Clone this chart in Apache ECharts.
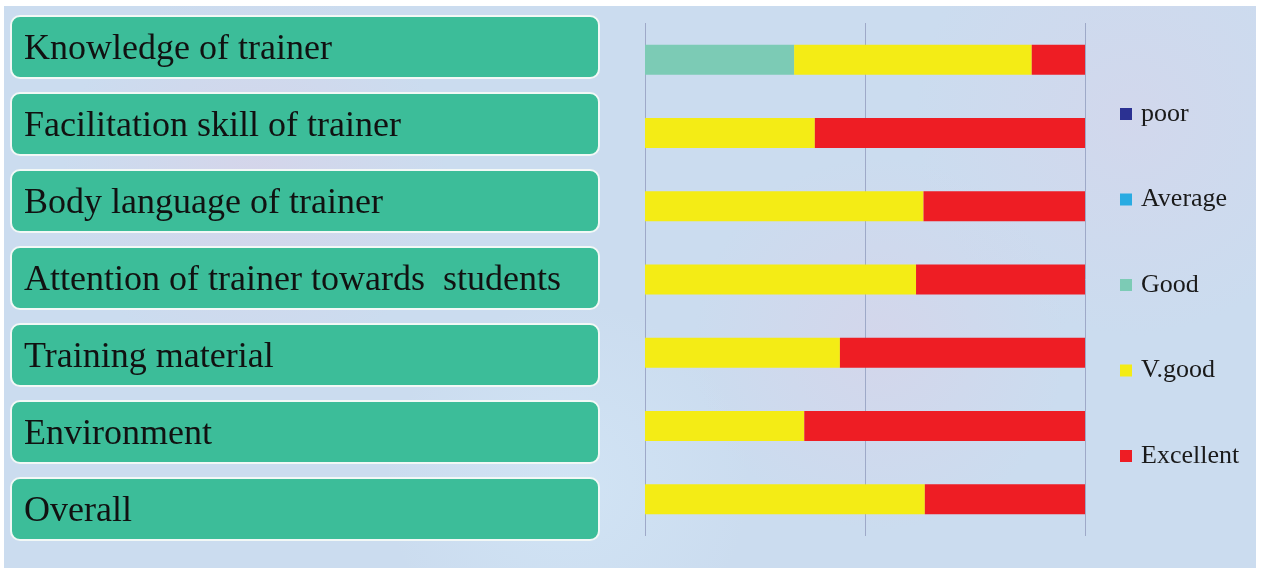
<!DOCTYPE html>
<html>
<head>
<meta charset="utf-8">
<script src="https://cdn.jsdelivr.net/npm/echarts@6/dist/echarts.min.js"></script>
<style>
  html, body { margin: 0; padding: 0; background: #ffffff; }
  #bg { position: absolute; left: 4px; top: 6px; width: 1252px; height: 562px;
        background-color: #cbdcef;
        background-image:
          radial-gradient(circle at 20% 30%, rgba(230,200,225,0.35) 0, rgba(230,200,225,0) 18%),
          radial-gradient(circle at 70% 60%, rgba(230,200,225,0.3) 0, rgba(230,200,225,0) 20%),
          radial-gradient(circle at 45% 85%, rgba(215,235,250,0.5) 0, rgba(215,235,250,0) 22%),
          radial-gradient(circle at 90% 20%, rgba(225,205,230,0.3) 0, rgba(225,205,230,0) 18%);
  }
  #chart { position: absolute; left: 0; top: 0; width: 1262px; height: 573px; }
</style>
</head>
<body>
<div id="bg"></div>
<div id="chart"></div>
<script>
// ---- data ----
const categories = [
  "Knowledge of trainer",
  "Facilitation skill of trainer",
  "Body language of trainer",
  "Attention of trainer towards  students",
  "Training material",
  "Environment",
  "Overall"
];
const seriesNames = ["poor", "Average", "Good", "V.good", "Excellent"];
const poor      = [0, 0, 0, 0, 0, 0, 0];
const average   = [0, 0, 0, 0, 0, 0, 0];
const good      = [33.9, 0, 0, 0, 0, 0, 0];
const vgood     = [54.0, 38.6, 63.3, 61.6, 44.3, 36.2, 63.6];
const excellent = [12.1, 61.4, 36.7, 38.4, 55.7, 63.8, 36.4];
const xTicks = [0, 50, 100];

const colors = {
  "poor": "#2b3192",
  "Average": "#29abe2",
  "Good": "#7ccbb5",
  "V.good": "#f4ec15",
  "Excellent": "#ee1d24"
};
const values = [poor, average, good, vgood, excellent];
const boxFill = categories.map(() => 1);

const chart = echarts.init(document.getElementById('chart'), null, { renderer: 'canvas' });

const stackSeries = seriesNames.map((name, i) => ({
  name: name,
  type: 'bar',
  stack: 'total',
  xAxisIndex: 0,
  yAxisIndex: 0,
  barWidth: 30,
  itemStyle: { color: colors[name] },
  emphasis: { disabled: true },
  data: values[i]
}));

chart.setOption({
  backgroundColor: 'transparent',
  animation: false,
  grid: [
    { left: 645, right: 177, top: 23, bottom: 37 },
    { left: 10, width: 590, top: 8.5, height: 539 }
  ],
  xAxis: [
    {
      gridIndex: 0, type: 'value', min: xTicks[0], max: xTicks[xTicks.length - 1], interval: 50,
      axisLabel: { show: false }, axisLine: { show: false }, axisTick: { show: false },
      splitLine: { show: true, lineStyle: { color: '#9ea9c8', width: 1 } }
    },
    {
      gridIndex: 1, type: 'value', min: 0, max: 1, show: false
    }
  ],
  yAxis: [
    {
      gridIndex: 0, type: 'category', data: categories, inverse: true,
      axisLabel: { show: false }, axisLine: { show: false }, axisTick: { show: false }
    },
    {
      gridIndex: 1, type: 'category', data: categories, inverse: true, show: false
    }
  ],
  legend: {
    orient: 'vertical',
    left: 1120,
    top: 101,
    padding: 0,
    itemWidth: 12,
    itemHeight: 12,
    itemGap: 59.5,
    icon: 'rect',
    data: seriesNames,
    selectedMode: false,
    textStyle: { fontFamily: 'Liberation Serif', fontSize: 26, color: '#1a1a1a', lineHeight: 26, padding: [0, 0, 0, 4] }
  },
  series: [
    {
      type: 'bar',
      xAxisIndex: 1,
      yAxisIndex: 1,
      barWidth: 64,
      silent: true,
      itemStyle: { color: '#3cbd99', borderColor: '#f2f8f6', borderWidth: 2, borderRadius: 9 },
      label: {
        show: true,
        position: 'insideLeft',
        distance: 14,
        offset: [0, 3],
        formatter: (p) => categories[p.dataIndex],
        fontFamily: 'Liberation Serif',
        fontSize: 36,
        color: '#111111'
      },
      data: boxFill
    }
  ].concat(stackSeries)
});
</script>
</body>
</html>
